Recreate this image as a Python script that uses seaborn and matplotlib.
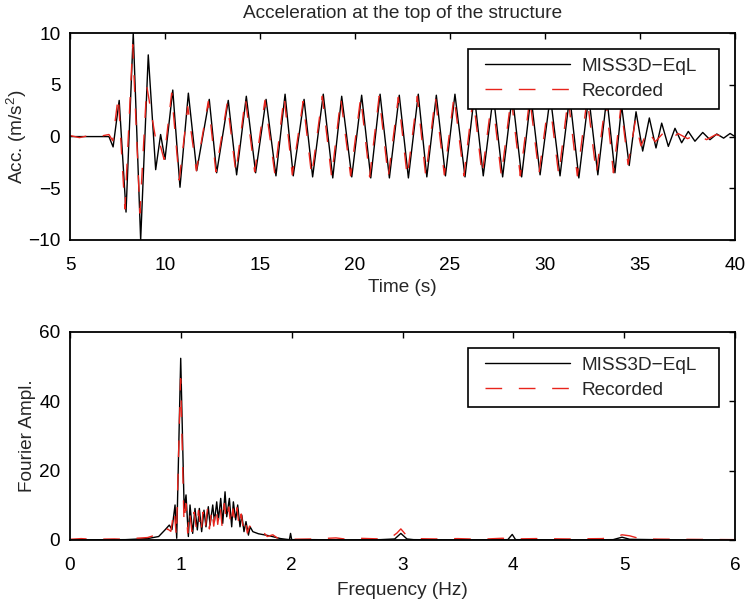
import matplotlib
matplotlib.use("Agg")
import matplotlib.pyplot as plt
import seaborn as sns
from matplotlib.path import Path
from matplotlib.lines import Line2D
from matplotlib.legend_handler import HandlerLine2D

# Acceleration time history: extrema
t_sim = [5.0, 7.05, 7.27, 7.59, 7.95, 8.33, 8.72, 9.12, 9.51, 9.77, 10.0, 10.41, 10.79, 11.23, 11.67,
         12.33, 12.72, 13.33, 13.77, 14.28, 14.77, 15.32, 15.84, 16.32, 16.75, 17.32, 17.77, 18.33,
         18.83, 19.3, 19.83, 20.35, 20.83, 21.32, 21.81, 22.33, 22.81, 23.33, 23.78, 24.28, 24.76,
         25.26, 25.79, 26.28, 26.75, 27.28, 27.77, 28.28, 28.77, 29.26, 29.74, 30.28, 30.79, 31.3,
         31.78, 32.3, 32.78, 33.25, 33.68, 34.03, 34.43, 34.79, 35.14, 35.49, 35.84, 36.14, 36.49,
         36.84, 37.19, 37.54, 37.89, 38.3, 38.68, 39.04, 39.4, 39.74, 40.0]
acc_sim = [0, 0, -1.0, 3.5, -7.3, 10.0, -10.0, 7.9, -3.2, 0.2, -2.2, 4.5, -4.9, 4.2, -3.3, 3.6, -3.5,
           3.5, -3.7, 3.9, -3.5, 3.6, -3.8, 4.1, -3.8, 3.6, -3.9, 4.1, -4.0, 3.9, -3.9, 4.0, -4.0, 4.1,
           -4.0, 4.0, -4.0, 4.1, -3.9, 4.0, -3.8, 4.1, -3.9, 4.0, -3.8, 4.0, -3.9, 4.0, -3.9, 3.9, -3.7,
           3.9, -3.8, 3.9, -4.0, 3.9, -3.7, 3.8, -3.5, 3.0, -2.8, 2.4, -1.4, 1.8, -1.1, 1.3, -0.95, 0.8,
           -0.6, 0.5, -0.45, 0.4, -0.3, 0.25, -0.15, 0.3, 0.0]

t_rec = [5.0, 5.5, 6.0, 6.5, 7.05, 7.25, 7.54, 7.89, 8.3, 8.68, 9.04, 9.56, 9.7, 9.95, 10.35, 10.75,
         11.2, 11.65, 12.28, 12.68, 13.28, 13.73, 14.23, 14.72, 15.26, 15.78, 16.27, 16.7, 17.27,
         17.72, 18.28, 18.77, 19.25, 19.77, 20.3, 20.77, 21.27, 21.75, 22.28, 22.75, 23.28, 23.72,
         24.23, 24.7, 25.21, 25.73, 26.22, 26.69, 27.22, 27.7, 28.22, 28.7, 29.2, 29.68, 30.22, 30.72,
         31.22, 31.7, 32.22, 32.7, 33.2, 33.6, 34.0, 34.37, 34.75, 35.05, 35.4, 35.8, 36.2, 36.6,
         37.0, 37.5, 38.0, 38.5, 39.0, 39.5, 40.0]
acc_rec = [0.1, -0.1, 0.1, 0.0, 0.2, -0.4, 3.9, -7.0, 8.9, -7.4, 4.9, -0.8, -0.5, -2.2, 4.2, -4.2,
           2.9, -3.3, 3.4, -3.4, 3.3, -3.5, 3.7, -3.4, 3.5, -3.6, 3.9, -3.7, 3.4, -3.8, 3.9, -3.9,
           3.7, -3.8, 3.8, -3.9, 3.9, -3.9, 3.8, -3.9, 3.9, -3.8, 3.8, -3.7, 3.9, -3.8, 3.8, -3.7,
           3.9, -3.8, 3.8, -3.8, 3.7, -3.6, 3.8, -3.7, 3.7, -3.8, 3.7, -3.6, 3.6, -3.5, 3.0, -2.7,
           1.5, -0.9, 0.6, -0.5, 0.3, -0.3, 0.3, -0.2, 0.2, -0.3, 0.2, -0.1, 0.0]

# Fourier amplitude spectra
f_sim = [0.0, 0.5, 0.7, 0.8, 0.857, 0.896, 0.92, 0.948, 0.963, 0.999, 1.03, 1.047, 1.068, 1.083,
         1.107, 1.128, 1.149, 1.167, 1.188, 1.209, 1.227, 1.248, 1.264, 1.288, 1.303, 1.324, 1.339,
         1.36, 1.378, 1.399, 1.414, 1.438, 1.459, 1.474, 1.495, 1.513, 1.534, 1.55, 1.57, 1.588,
         1.61, 1.625, 1.65, 1.7, 1.75, 1.8, 1.85, 1.9, 1.95, 1.98, 1.99, 2.0, 2.2, 2.5, 2.8, 2.93,
         2.985, 3.04, 3.1, 3.5, 3.95, 3.99, 4.02, 4.5, 4.9, 4.98, 5.05, 5.5, 6.0]
amp_sim = [0.0, 0.1, 0.4, 1.0, 2.9, 4.3, 3.0, 10.1, 0.5, 52.4, 9.0, 13.0, 1.0, 10.1, 1.9, 9.1, 2.9,
           9.1, 2.4, 8.6, 3.8, 9.6, 4.3, 10.1, 5.3, 11.0, 5.8, 12.0, 4.8, 13.9, 6.7, 12.0, 3.8, 11.0,
           5.8, 10.1, 3.8, 7.2, 2.4, 5.3, 1.4, 3.8, 2.4, 1.8, 1.5, 1.2, 0.8, 0.4, 0.2, 0.1, 1.9, 0.1,
           0.1, 0.0, 0.1, 0.3, 1.9, 0.3, 0.1, 0.0, 0.1, 1.6, 0.1, 0.0, 0.1, 0.8, 0.2, 0.0, 0.0]

f_rec = [0.0, 0.1, 0.2, 0.4, 0.5, 0.6, 0.7, 0.75, 0.8, 0.85, 0.88, 0.91, 0.94, 0.96, 0.998, 1.029,
         1.045, 1.062, 1.078, 1.1, 1.12, 1.142, 1.16, 1.182, 1.2, 1.22, 1.24, 1.258, 1.28, 1.297,
         1.318, 1.333, 1.354, 1.372, 1.393, 1.41, 1.432, 1.452, 1.47, 1.49, 1.507, 1.527, 1.545,
         1.565, 1.583, 1.6, 1.62, 1.65, 1.7, 1.74, 1.78, 1.83, 1.87, 1.92, 2.0, 2.2, 2.4, 2.5, 2.6,
         2.8, 2.9, 2.95, 2.985, 3.03, 3.1, 3.3, 3.5, 3.7, 3.9, 4.0, 4.2, 4.5, 4.8, 4.92, 4.98, 5.05,
         5.15, 5.5, 6.0]
amp_rec = [0.2, 0.4, 0.2, 0.3, 0.2, 0.5, 0.7, 1.2, 0.9, 2.0, 3.2, 2.5, 8.7, 1.0, 46.5, 4.8, 10.5,
           2.0, 8.5, 2.5, 8.0, 3.0, 8.5, 2.0, 8.0, 3.5, 8.8, 3.2, 9.0, 4.0, 9.5, 4.5, 10.0, 4.0,
           10.5, 5.5, 9.5, 4.0, 9.0, 5.0, 9.3, 3.5, 7.5, 3.0, 5.5, 2.0, 4.0, 3.5, 2.0, 2.4, 1.0, 1.5,
           0.6, 0.8, 0.2, 0.3, 0.6, 0.2, 0.5, 0.3, 0.8, 2.0, 3.2, 1.5, 0.4, 0.3, 0.4, 0.2, 0.5, 0.3,
           0.4, 0.3, 0.4, 0.8, 1.5, 1.2, 0.3, 0.2, 0.1]

FS = 13.7
RED = "#e8241c"
DASH = [12, 12]

sns.set_style("white")
plt.rcParams['font.family'] = ['Liberation Sans', 'DejaVu Sans']
plt.rcParams['mathtext.fontset'] = 'custom'
plt.rcParams['mathtext.rm'] = 'Liberation Sans'
plt.rcParams['font.size'] = FS

fig = plt.figure(figsize=(7.46, 6.03), dpi=100)
ax1 = fig.add_axes([0.0938, 0.602, 0.8915, 0.343])
ax2 = fig.add_axes([0.0938, 0.1045, 0.8915, 0.345])


def style_axes(ax):
    for sp in ax.spines.values():
        sp.set_color("black")
        sp.set_linewidth(1.3)
    ax.tick_params(direction="in", top=True, right=True, length=4, width=1,
                   labelsize=FS, colors="black")
    ax.tick_params(axis="x", pad=12)
    ax.tick_params(axis="y", pad=7)


def wide_box(x0, y0, width, height, mutation_size):
    # frame a bit wider on the right, like the MATLAB legend box
    x1 = x0 + width + 0.7 * mutation_size
    y1 = y0 + height
    return Path([(x0, y0), (x1, y0), (x1, y1), (x0, y1), (x0, y0)],
                [Path.MOVETO, Path.LINETO, Path.LINETO, Path.LINETO, Path.CLOSEPOLY])


sns.lineplot(x=t_sim, y=acc_sim, ax=ax1, color="black", lw=1.0, sort=False,
             estimator=None, label="MISS3D\u2212EqL")
sns.lineplot(x=t_rec, y=acc_rec, ax=ax1, color=RED, lw=1.0, sort=False,
             estimator=None, label="Recorded")
ax1.set_xlim(5, 40)
ax1.set_ylim(-10, 10)
ax1.set_xticks(range(5, 41, 5))
ax1.set_yticks([-10, -5, 0, 5, 10])
ax1.set_xlabel("Time (s)", fontsize=FS)
ax1.set_ylabel("Acc. (m/s$^2$)", fontsize=FS, labelpad=-1)
ax1.set_title("Acceleration at the top of the structure", fontsize=FS, pad=11)
style_axes(ax1)

sns.lineplot(x=f_sim, y=amp_sim, ax=ax2, color="black", lw=1.0, sort=False,
             estimator=None, label="MISS3D\u2212EqL")
sns.lineplot(x=f_rec, y=amp_rec, ax=ax2, color=RED, lw=1.0, sort=False,
             estimator=None, label="Recorded")
ax2.set_xlim(0, 6)
ax2.set_ylim(0, 60)
ax2.set_xticks(range(0, 7))
ax2.set_yticks([0, 20, 40, 60])
ax2.set_xlabel("Frequency (Hz)", fontsize=FS, labelpad=6)
ax2.set_ylabel("Fourier Ampl.", fontsize=FS, labelpad=2)
style_axes(ax2)

for ax in (ax1, ax2):
    ax.lines[1].set_dashes(DASH)
    leg = ax.legend(loc="upper right", bbox_to_anchor=(0.98, 1.0), fontsize=FS,
                    frameon=True, fancybox=False, framealpha=1, edgecolor="black",
                    handlelength=4.9, handletextpad=0.63, borderaxespad=0.84,
                    borderpad=0.45, labelspacing=0.4,
                    handler_map={Line2D: HandlerLine2D(xpad=0.44)})
    leg.get_frame().set_linewidth(1.2)
    leg.get_frame().set_boxstyle(wide_box)
    leg.get_lines()[1].set_dashes(DASH)

fig.savefig("out.png", dpi=100)
